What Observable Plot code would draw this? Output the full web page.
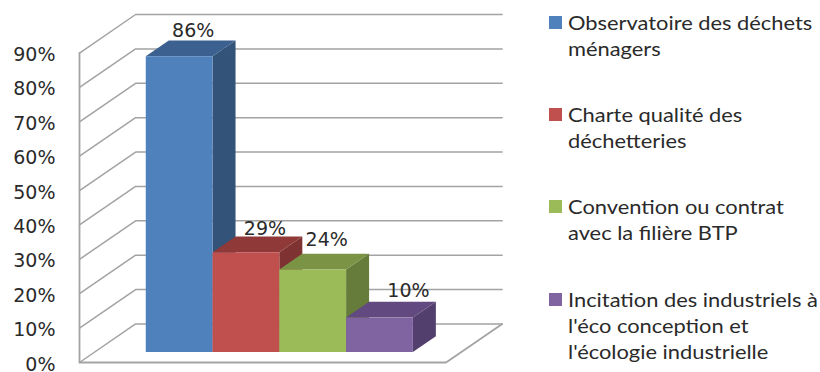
<!DOCTYPE html>
<html lang="fr">
<head>
<meta charset="utf-8">
<script src="https://cdn.jsdelivr.net/npm/d3@7"></script>
<script src="https://cdn.jsdelivr.net/npm/@observablehq/plot@0.6"></script>
<style>
  html, body { margin: 0; padding: 0; background: #fff; }
  #chart { position: relative; width: 820px; height: 372px; overflow: hidden; }
  #chart svg { position: absolute; left: 0; top: 0; }
  .key { position: absolute; left: 549px; font: 19px/26px Lato, sans-serif; color: #2a2a2a; white-space: nowrap; }
  .key i { position: absolute; left: 0; top: 6px; width: 13px; height: 13px; }
  .key span { display: block; margin-left: 18.5px; transform: scaleX(1.15); transform-origin: left center; }
</style>
</head>
<body>
<div id="chart"></div>
<script>
// Share of each waste-management action, in percent
const categories = [
  ["Observatoire des déchets", "ménagers"],
  ["Charte qualité des", "déchetteries"],
  ["Convention ou contrat", "avec la filière BTP"],
  ["Incitation des industriels à", "l'éco conception et", "l'écologie industrielle"]
];
const values = [86, 29, 24, 10];
const tickValues = [0, 10, 20, 30, 40, 50, 60, 70, 80, 90];
const frontColors = ["#4f81bd", "#c0504d", "#9bbb59", "#8064a2"];
const topColors = ["#3c6090", "#8f3a38", "#7a9345", "#62497f"];
const sideColors = ["#335378", "#7e3332", "#667c3b", "#533f6d"];
const legendTops = [10, 102, 194, 287];

// Oblique projection: depth 0 is the front plane, depth 1 the back wall
const wallDx = 0.84;
const wallDy = 11.2;
const project = (u, v, depth) => ({x: u + depth * wallDx, y: v + depth * wallDy});

const floorRight = 4.49;
const barFront = 0.26;
const barBack = 0.67;
const barStart = -barFront * wallDx;

// Walls and floor
const grid = [];
tickValues.forEach((t) => {
  const a = project(-1, t, 0), b = project(-1, t, 1), c = project(floorRight, t, 1);
  for (const p of [a, b, c]) grid.push({...p, line: `t${t}`});
});
const outline = [
  {...project(-1, 90, 0), line: "left"},
  {...project(-1, 0, 0), line: "left"},
  {...project(floorRight, 0, 0), line: "left"},
  {...project(floorRight, 0, 1), line: "left"}
];

// Each bar gets three faces: side, top, front
const barMarks = values.flatMap((value, i) => {
  const u = barStart + i;
  const lf = project(u, 0, barFront), rf = project(u + 1, value, barFront);
  const lb = project(u, 0, barBack), rb = project(u + 1, value, barBack);
  const side = [
    {x: rf.x, y1: lf.y, y2: rf.y},
    {x: rb.x, y1: lb.y, y2: rb.y}
  ];
  const top = [
    {y: rf.y, x1: lf.x, x2: rf.x},
    {y: rb.y, x1: lb.x, x2: rb.x}
  ];
  return [
    Plot.areaY(side, {x: "x", y1: "y1", y2: "y2", fill: sideColors[i]}),
    Plot.areaX(top, {y: "y", x1: "x1", x2: "x2", fill: topColors[i]}),
    Plot.rect([{x1: lf.x, x2: rf.x, y1: lf.y, y2: rf.y}], {x1: "x1", x2: "x2", y1: "y1", y2: "y2", fill: frontColors[i]})
  ];
});

// Value labels sit just behind the top face of their bar
const labelDx = [2, 7, 2, 17];
const labelDy = [-18, -16, -22, -19];
const valueLabels = values.map((value, i) => {
  const p = project(barStart + i + 0.5, value, (barFront + barBack) / 2);
  return Plot.text([{...p, text: `${value}%`}], {
    x: "x", y: "y", text: "text", dx: labelDx[i], dy: labelDy[i],
    fontSize: 19, fontFamily: "DejaVu Sans", fill: "#2a2a2a"
  });
});

const chart = document.getElementById("chart");
chart.append(Plot.plot({
  width: 820,
  height: 372,
  marginLeft: 79,
  marginRight: 317,
  marginTop: 14,
  marginBottom: 10,
  x: {domain: [-1, 5.35], axis: null},
  y: {domain: [0, 101.2], axis: null},
  marks: [
    Plot.line(grid, {x: "x", y: "y", z: "line", stroke: "#a3a3a3", strokeWidth: 1.5}),
    Plot.line(outline, {x: "x", y: "y", z: "line", stroke: "#a3a3a3", strokeWidth: 1.8}),
    ...barMarks,
    Plot.text(tickValues, {
      x: () => -1, y: (d) => d, text: (d) => `${d}%`, dx: -24, dy: 2,
      textAnchor: "end", fontSize: 19, fontFamily: "DejaVu Sans", fill: "#2a2a2a"
    }),
    ...valueLabels
  ]
}));

// Key on the right, one entry per action
categories.forEach((lines, i) => {
  const row = document.createElement("div");
  row.className = "key";
  row.style.top = `${legendTops[i]}px`;
  const swatch = document.createElement("i");
  swatch.style.background = frontColors[i];
  row.append(swatch);
  for (const line of lines) {
    const span = document.createElement("span");
    span.textContent = line;
    row.append(span);
  }
  chart.append(row);
});
</script>
</body>
</html>
